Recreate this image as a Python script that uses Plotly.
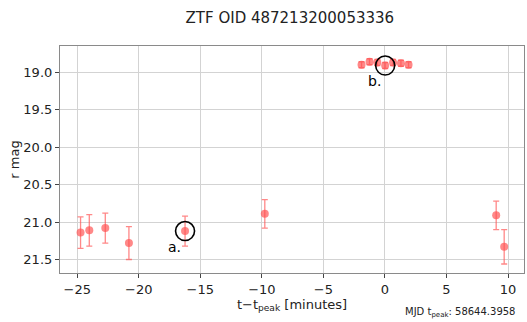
import plotly.graph_objects as go

# Light-curve samples: time from peak [minutes], r-band magnitude, 1-sigma error
t_min = [-24.73, -24.02, -22.72, -20.80, -16.24, -9.76,
         -1.90, -1.25, -0.62, 0.02, 0.66, 1.30, 1.92,
         9.04, 9.69]
r_mag = [21.14, 21.11, 21.08, 21.28, 21.12, 20.89,
         18.90, 18.86, 18.87, 18.91, 18.87, 18.88, 18.90,
         20.91, 21.33]
r_err = [0.21, 0.21, 0.20, 0.22, 0.20, 0.19,
         0.04, 0.04, 0.04, 0.04, 0.04, 0.04, 0.04,
         0.19, 0.23]

# Highlighted epochs
mark_labels = ["a.", "b."]
mark_index = [4, 9]

x_ticks = [-25, -20, -15, -10, -5, 0, 5, 10]
y_ticks = [19.0, 19.5, 20.0, 20.5, 21.0, 21.5]

title_text = "ZTF OID 487213200053336"
mjd_text = "MJD t<sub>peak</sub>: 58644.3958"

red = "rgba(255,80,80,0.68)"
font = "DejaVu Sans, sans-serif"

fig = go.Figure()

fig.add_trace(go.Scatter(
    x=t_min, y=r_mag, mode="markers",
    marker=dict(color=red, size=8),
    error_y=dict(type="data", array=r_err, color=red, thickness=1.3, width=3),
    showlegend=False,
))

# open circles around the highlighted epochs
fig.add_trace(go.Scatter(
    x=[t_min[i] for i in mark_index], y=[r_mag[i] for i in mark_index],
    mode="markers",
    marker=dict(symbol="circle-open", size=19, color="black", line=dict(width=1.6)),
    showlegend=False,
))

for lab, i in zip(mark_labels, mark_index):
    fig.add_annotation(
        x=t_min[i], y=r_mag[i], text=lab, showarrow=False,
        xanchor="right", yanchor="top", xshift=-2, yshift=-6,
        font=dict(family=font, size=14, color="black"),
    )

axis_common = dict(
    showgrid=True, gridcolor="#d3d3d3", gridwidth=1,
    showline=True, linecolor="#8a8a8a", linewidth=1.2, mirror=True,
    ticks="outside", ticklen=4, tickcolor="#444", tickwidth=1,
    zeroline=False,
    tickfont=dict(family=font, size=13, color="#222"),
)

fig.update_xaxes(
    range=[-26.4, 11.3], tickvals=x_ticks,
    ticktext=["\u2212" + str(abs(v)) if v < 0 else str(v) for v in x_ticks],
    title=dict(text="t\u2212t<sub>peak</sub> [minutes]", standoff=2,
               font=dict(family=font, size=13, color="#222")),
    **axis_common,
)
fig.update_yaxes(
    range=[21.68, 18.65], tickvals=y_ticks,
    ticktext=[f"{v:.1f}" for v in y_ticks],
    title=dict(text="r mag", standoff=0,
               font=dict(family=font, size=13, color="#222")),
    **axis_common,
)

fig.update_layout(
    width=527, height=322,
    margin=dict(l=60, r=3, t=46, b=49),
    plot_bgcolor="white", paper_bgcolor="white",
    title=dict(text=title_text, x=0.55, xanchor="center", y=0.945, yanchor="middle",
               font=dict(family=font, size=15, color="#222")),
)

fig.add_annotation(
    xref="paper", yref="paper", x=0.985, y=-0.172, xanchor="right", yanchor="middle",
    text=mjd_text, showarrow=False,
    font=dict(family=font, size=10, color="#222"),
)

fig.write_html("out.html")
